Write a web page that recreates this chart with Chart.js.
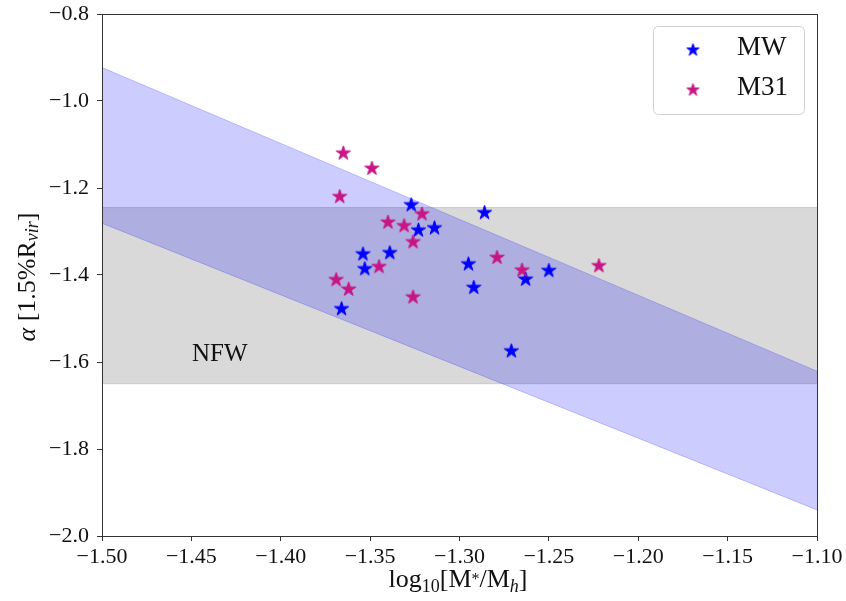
<!DOCTYPE html>
<html>
<head>
<meta charset="utf-8">
<script src="https://cdn.jsdelivr.net/npm/chart.js@4"></script>
<style>
  html, body { margin: 0; padding: 0; background: #fff; }
  #wrap { width: 846px; height: 601px; }
</style>
</head>
<body>
<div id="wrap"><canvas id="chart"></canvas></div>
<script>
// log10(M*/Mh) and inner slope alpha for each galaxy
var mwX = [-1.327, -1.286, -1.323, -1.314, -1.354, -1.339, -1.353, -1.295, -1.250, -1.263, -1.292, -1.366, -1.271];
var mwY = [-1.239, -1.257, -1.297, -1.292, -1.352, -1.349, -1.386, -1.375, -1.390, -1.410, -1.429, -1.478, -1.575];
var m31X = [-1.365, -1.349, -1.367, -1.321, -1.340, -1.331, -1.326, -1.345, -1.369, -1.362, -1.326, -1.279, -1.265, -1.222];
var m31Y = [-1.120, -1.155, -1.220, -1.260, -1.279, -1.287, -1.324, -1.381, -1.411, -1.433, -1.451, -1.360, -1.389, -1.379];

// predicted band and NFW range
var bandX = [-1.5, -1.1];
var bandUpper = [-0.923, -1.621];
var bandLower = [-1.281, -1.940];
var nfwTop = -1.245;
var nfwBottom = -1.65;

var xTicks = { min: -1.5, max: -1.1, step: 0.05 };
var yTicks = { min: -2.0, max: -0.8, step: 0.2 };

var SERIF = "'Liberation Serif', 'Times New Roman', serif";

function pts(xs, ys) {
  return xs.map(function(x, i) { return { x: x, y: ys[i] }; });
}

// filled five-point star marker
function starImage(color, size) {
  var c = document.createElement("canvas");
  c.width = size; c.height = size;
  var g = c.getContext("2d");
  var r = size / 2 - 1, ri = r * 0.381966, cx = size / 2, cy = size / 2;
  g.beginPath();
  for (var i = 0; i < 10; i++) {
    var rad = i % 2 === 0 ? r : ri;
    var a = -Math.PI / 2 + i * Math.PI / 5;
    var px = cx + rad * Math.cos(a), py = cy + rad * Math.sin(a);
    if (i === 0) g.moveTo(px, py); else g.lineTo(px, py);
  }
  g.closePath();
  g.fillStyle = color;
  g.strokeStyle = color;
  g.lineWidth = 1;
  g.fill();
  g.stroke();
  return c;
}

var blueStar = starImage("#0000ff", 17);
var pinkStar = starImage("#c71585", 17);
var blueStarSmall = starImage("#0000ff", 15);
var pinkStarSmall = starImage("#c71585", 15);

function minus(s) { return s.replace("-", "\u2212"); }

// frame, axis titles, NFW label and legend box
var decorations = {
  id: "decorations",
  afterDraw: function(chart) {
    var ctx = chart.ctx, a = chart.chartArea;
    ctx.save();
    ctx.strokeStyle = "#333";
    ctx.lineWidth = 1;
    ctx.strokeRect(Math.round(a.left) + 0.5, Math.round(a.top) + 0.5,
      Math.round(a.right - a.left), Math.round(a.bottom - a.top));

    ctx.fillStyle = "#111";
    ctx.textBaseline = "alphabetic";

    // x title: log10[M*/Mh]
    var parts = [
      { t: "log", f: "26px " + SERIF, dy: 0 },
      { t: "10", f: "18px " + SERIF, dy: 5 },
      { t: "[M", f: "26px " + SERIF, dy: 0 },
      { t: "*", f: "16px " + SERIF, dy: -3 },
      { t: "/M", f: "26px " + SERIF, dy: 0 },
      { t: "h", f: "italic 18px " + SERIF, dy: 5 },
      { t: "]", f: "26px " + SERIF, dy: 0 }
    ];
    drawParts(ctx, parts, 458, 587);

    // y title: alpha [1.5%Rvir]
    ctx.save();
    ctx.translate(35, 277);
    ctx.rotate(-Math.PI / 2);
    var yparts = [
      { t: "\u03b1", f: "italic 26px " + SERIF, dy: 0 },
      { t: " [1.5%R", f: "26px " + SERIF, dy: 0 },
      { t: "vir", f: "italic 18px " + SERIF, dy: 3 },
      { t: "]", f: "26px " + SERIF, dy: 0 }
    ];
    drawParts(ctx, yparts, 0, 0);
    ctx.restore();

    // NFW label
    ctx.font = "25px " + SERIF;
    ctx.textAlign = "left";
    ctx.fillText("NFW", 192, 361);

    // legend
    roundRect(ctx, 653.5, 26.5, 151, 88, 5);
    ctx.fillStyle = "rgba(255,255,255,0.8)";
    ctx.fill();
    ctx.strokeStyle = "#d0d0d0";
    ctx.stroke();
    ctx.drawImage(blueStarSmall, 693 - 7.5, 50 - 7.5);
    ctx.drawImage(pinkStarSmall, 693 - 7.5, 90 - 7.5);
    ctx.fillStyle = "#111";
    ctx.font = "27px " + SERIF;
    ctx.textBaseline = "middle";
    ctx.fillText("MW", 737, 48);
    ctx.fillText("M31", 737, 88);
    ctx.restore();
  }
};

function drawParts(ctx, parts, cx, baseY) {
  var total = 0;
  parts.forEach(function(p) { ctx.font = p.f; total += ctx.measureText(p.t).width; });
  var x = cx - total / 2;
  ctx.textAlign = "left";
  parts.forEach(function(p) {
    ctx.font = p.f;
    ctx.fillText(p.t, x, baseY + p.dy);
    x += ctx.measureText(p.t).width;
  });
}

function roundRect(ctx, x, y, w, h, r) {
  ctx.beginPath();
  ctx.moveTo(x + r, y);
  ctx.lineTo(x + w - r, y);
  ctx.arcTo(x + w, y, x + w, y + r, r);
  ctx.lineTo(x + w, y + h - r);
  ctx.arcTo(x + w, y + h, x + w - r, y + h, r);
  ctx.lineTo(x + r, y + h);
  ctx.arcTo(x, y + h, x, y + h - r, r);
  ctx.lineTo(x, y + r);
  ctx.arcTo(x, y, x + r, y, r);
  ctx.closePath();
}

var ctx = document.getElementById("chart").getContext("2d");

var chart = new Chart(ctx, {
  type: "scatter",
  data: {
    datasets: [
      {
        label: "M31",
        data: pts(m31X, m31Y),
        pointStyle: pinkStar,
        pointRadius: 8
      },
      {
        label: "MW",
        data: pts(mwX, mwY),
        pointStyle: blueStar,
        pointRadius: 8
      },
      {
        label: "band upper",
        data: pts(bandX, bandUpper),
        showLine: true,
        pointRadius: 0,
        borderWidth: 1,
        borderColor: "rgba(0,0,255,0.2)",
        fill: false
      },
      {
        label: "band lower",
        data: pts(bandX, bandLower),
        showLine: true,
        pointRadius: 0,
        borderWidth: 1,
        borderColor: "rgba(0,0,255,0.2)",
        backgroundColor: "rgba(0,0,255,0.2)",
        fill: "-1"
      },
      {
        label: "NFW top",
        data: pts(bandX, [nfwTop, nfwTop]),
        showLine: true,
        pointRadius: 0,
        borderWidth: 1,
        borderColor: "rgba(128,128,128,0.3)",
        fill: false
      },
      {
        label: "NFW bottom",
        data: pts(bandX, [nfwBottom, nfwBottom]),
        showLine: true,
        pointRadius: 0,
        borderWidth: 1,
        borderColor: "rgba(128,128,128,0.3)",
        backgroundColor: "rgba(128,128,128,0.3)",
        fill: "-1"
      }
    ]
  },
  options: {
    responsive: true,
    maintainAspectRatio: false,
    animation: false,
    layout: { padding: { left: 0, top: 14, right: 29, bottom: 0 } },
    plugins: {
      legend: { display: false },
      tooltip: { enabled: false }
    },
    scales: {
      x: {
        type: "linear",
        min: xTicks.min,
        max: xTicks.max,
        afterFit: function(scale) {
          scale.height = 65;
          scale.paddingLeft = 0;
          scale.paddingRight = 0;
        },
        ticks: {
          stepSize: xTicks.step,
          color: "#111",
          padding: 3,
          maxRotation: 0,
          autoSkip: false,
          font: { family: SERIF, size: 22 },
          callback: function(v) { return minus(v.toFixed(2)); }
        },
        grid: { drawOnChartArea: false, tickLength: 5, color: "#333" },
        border: { color: "#333" }
      },
      y: {
        type: "linear",
        min: yTicks.min,
        max: yTicks.max,
        afterFit: function(scale) {
          scale.width = 102;
          scale.paddingTop = 0;
          scale.paddingBottom = 0;
        },
        ticks: {
          stepSize: yTicks.step,
          color: "#111",
          padding: 8,
          font: { family: SERIF, size: 22 },
          callback: function(v) { return minus(v.toFixed(1)); }
        },
        grid: { drawOnChartArea: false, tickLength: 5, color: "#333" },
        border: { color: "#333" }
      }
    }
  },
  plugins: [decorations]
});
</script>
</body>
</html>
